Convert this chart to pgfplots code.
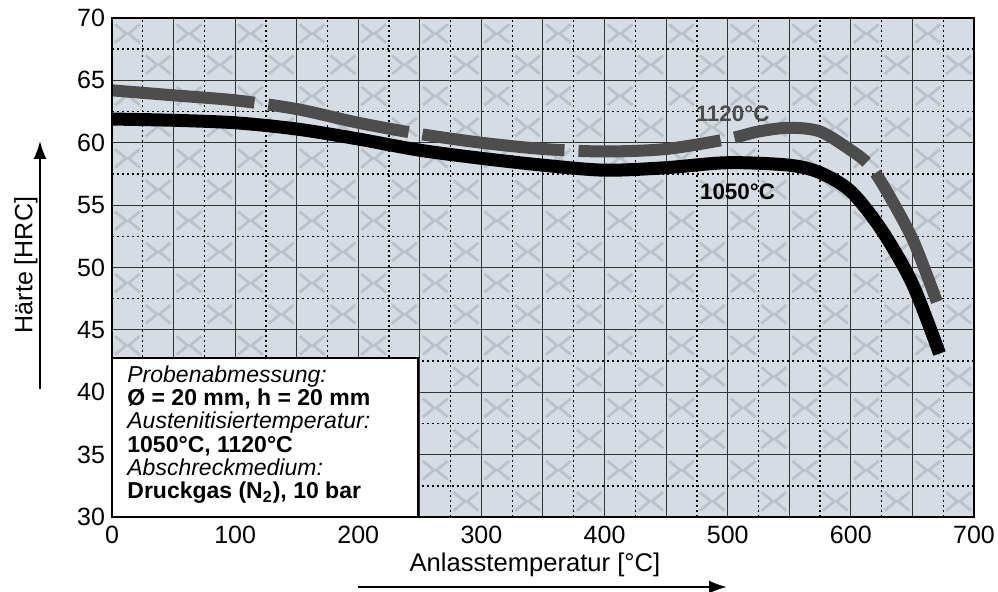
\documentclass[border=0pt]{standalone}
\usepackage{pgfplots}
\pgfplotsset{compat=1.18}
\usepackage{fontspec}
\setmainfont{Liberation Sans}
\usetikzlibrary{arrows.meta}
\definecolor{bg}{HTML}{D5DCE3}
\definecolor{chev}{HTML}{BAC1C8}
\definecolor{g1120}{HTML}{4D4D4D}
\begin{document}
\begin{tikzpicture}[x=1pt,y=1pt]
\useasboundingbox (-56,-37.5) rectangle (443,258.5);
\fill[bg] (0,0) rectangle (431,249.5);
\foreach \i in {0,...,13}{\foreach \j in {0,...,7}{
  \pgfmathsetmacro\ax{30.7857*\i+7.696}\pgfmathsetmacro\ay{31.1875*\j+23.39}
  \pgfmathsetmacro\bx{30.7857*\i+23.089}\pgfmathsetmacro\by{31.1875*\j+7.797}
  \draw[chev, line width=1.4pt, line join=miter]
    (\ax-6.2,\ay+4.6)--(\ax-0.6,\ay)--(\ax-6.2,\ay-4.6)
    (\ax+6.2,\ay+4.6)--(\ax+0.6,\ay)--(\ax+6.2,\ay-4.6)
    (\bx-6.2,\by+4.6)--(\bx-0.6,\by)--(\bx-6.2,\by-4.6)
    (\bx+6.2,\by+4.6)--(\bx+0.6,\by)--(\bx+6.2,\by-4.6);
}}
\begin{axis}[at={(0,0)}, anchor=south west, scale only axis,
  width=431pt, height=249.5pt,
  xmin=0, xmax=700, ymin=30, ymax=70,
  xtick={0,100,...,700}, minor xtick={50,150,...,650},
  ytick={30,35,...,70},
  major tick length=0pt, minor tick length=0pt,
  grid=both,
  major grid style={line width=0.5pt, color=black!80},
  minor grid style={line width=0.5pt, color=black!80},
  extra x ticks={25,75,...,675}, extra x tick labels={},
  extra x tick style={grid=major, major grid style={black, line width=0.7pt, dash pattern=on 0.8pt off 1.7pt}},
  extra y ticks={32.5,37.5,...,67.5}, extra y tick labels={},
  extra y tick style={grid=major, major grid style={black, line width=0.7pt, dash pattern=on 0.8pt off 1.7pt}},
  axis line style={line width=1.1pt},
  ticklabel style={font=\fontsize{12.5}{15}\selectfont},
  xticklabel style={yshift=-1pt},
  /pgf/number format/assume math mode=true,
  /pgf/number format/1000 sep={},
]
\addplot[black, line width=6.5pt, smooth, line cap=butt] coordinates {
(0,61.9) (50,61.8) (100,61.6) (150,61.1) (200,60.3) (250,59.4) (300,58.75) (350,58.2) (400,57.8) (450,58.0) (500,58.4) (550,58.2) (575,57.6) (600,56.1) (625,53.0) (650,48.7) (672,43.1)};
\addplot[g1120, line width=6pt, smooth, line cap=butt, dash pattern=on 71.5pt off 7pt] coordinates {
(0,64.2) (50,63.8) (100,63.4) (150,62.7) (200,61.6) (250,60.7) (300,60.0) (350,59.5) (400,59.3) (450,59.5) (500,60.3) (525,60.9) (550,61.2) (575,60.9) (600,59.4) (613,58.4) (625,56.8) (650,52.3) (670,47.2)};
\node[font=\bfseries\fontsize{11.2}{13}\selectfont, text=g1120] at (axis cs:504,62.35) {1120°C};
\node[font=\bfseries\fontsize{11.2}{13}\selectfont, text=black] at (axis cs:508,56.1) {1050°C};
\end{axis}
\draw[fill=white, line width=1pt] (0,0) rectangle (153,79.5);
\node[anchor=north west, inner sep=0pt, align=left, font=\fontsize{11.5}{11.67}\selectfont] at (7.5,76)
 {\textit{Probenabmessung:}\\
  \textbf{Ø = 20 mm, h = 20 mm}\\
  \textit{Austenitisiertemperatur:}\\
  \textbf{1050°C, 1120°C}\\
  \textit{Abschreckmedium:}\\
  \textbf{Druckgas (N\textsubscript{2}), 10 bar}};
\draw[line width=1.1pt] (0,0) -- (0,249.5);
\draw[line width=1.1pt] (0,0) -- (431,0);
\node[rotate=90, font=\fontsize{12.5}{15}\selectfont] at (-43,126) {Härte [HRC]};
\draw[line width=1pt, -{Latex[length=9pt,width=6.5pt]}] (-36,64) -- (-36,188);
\node[font=\fontsize{12.8}{15}\selectfont] at (211.5,-24) {Anlasstemperatur [°C]};
\draw[line width=1pt, -{Latex[length=9pt,width=6.5pt]}] (123,-35) -- (307.5,-35);
\end{tikzpicture}
\end{document}
